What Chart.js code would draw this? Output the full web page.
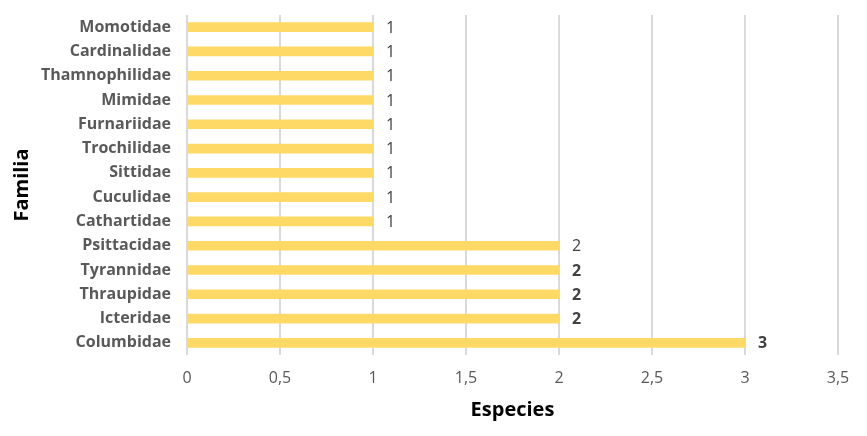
<!DOCTYPE html>
<html>
<head>
<meta charset="utf-8">
<script src="https://cdn.jsdelivr.net/npm/chart.js@4"></script>
<style>
  html, body { margin: 0; padding: 0; background: #fff; }
  #wrap { width: 867px; height: 436px; }
</style>
</head>
<body>
<div id="wrap"><canvas id="familia-chart" width="867" height="436"></canvas></div>
<script>
//data
const familias = ['Momotidae', 'Cardinalidae', 'Thamnophilidae', 'Mimidae', 'Furnariidae',
  'Trochilidae', 'Sittidae', 'Cuculidae', 'Cathartidae', 'Psittacidae',
  'Tyrannidae', 'Thraupidae', 'Icteridae', 'Columbidae'];
const especies = [1, 1, 1, 1, 1, 1, 1, 1, 1, 2, 2, 2, 2, 3];
const xTicks = [0, 0.5, 1, 1.5, 2, 2.5, 3, 3.5];

//labels drawn in bold in the original
const boldLabels = ['Tyrannidae', 'Thraupidae', 'Icteridae', 'Columbidae'];

const fontFamily = '"Open Sans", Lato, sans-serif';

//value labels at the end of each bar
const valueLabels = {
    id: 'valueLabels',
    afterDatasetsDraw(chart) {
        const ctx = chart.ctx;
        const meta = chart.getDatasetMeta(0);
        ctx.save();
        ctx.fillStyle = '#404040';
        ctx.textAlign = 'left';
        ctx.textBaseline = 'middle';
        meta.data.forEach((bar, i) => {
            const bold = boldLabels.includes(familias[i]);
            ctx.font = (bold ? 'bold ' : '') + '16px ' + fontFamily;
            ctx.fillText(String(especies[i]), bar.x + 13, bar.y + 1);
        });
        ctx.restore();
    }
};

const familiaCanvas = document.getElementById('familia-chart');
let familiaChart = new Chart(familiaCanvas, {
    type: 'bar',
    data: {
        labels: familias,
        datasets: [{
            data: especies,
            backgroundColor: '#FFD966',
            barThickness: 9,
            borderWidth: 0
        }]
    },
    options: {
        indexAxis: 'y',
        responsive: false,
        animation: false,
        layout: {
            padding: { top: 15, right: 29, left: 0, bottom: 0 }
        },
        scales: {
            x: {
                min: 0,
                max: 3.5,
                afterBuildTicks: (scale) => {
                    scale.ticks = xTicks.map(v => ({ value: v }));
                },
                afterFit: (scale) => { scale.height = 81; },
                grid: {
                    color: '#d9d9d9',
                    lineWidth: 2,
                    drawTicks: false
                },
                border: { display: false },
                ticks: {
                    padding: 14,
                    color: '#595959',
                    font: { family: fontFamily, size: 16 },
                    callback: (v) => String(v).replace('.', ',')
                },
                title: {
                    display: true,
                    text: 'Especies',
                    color: '#000',
                    font: { family: fontFamily, size: 20, weight: 'bold' },
                    padding: { top: 0, bottom: 14 }
                }
            },
            y: {
                afterFit: (scale) => {
                    scale.width = 187;
                    scale.paddingTop = 0;
                    scale.paddingBottom = 0;
                },
                grid: { display: false, drawTicks: false },
                border: { display: false },
                ticks: {
                    padding: 16,
                    color: '#595959',
                    font: { family: fontFamily, size: 16, weight: 'bold' }
                },
                title: {
                    display: true,
                    text: 'Familia',
                    color: '#000',
                    font: { family: fontFamily, size: 20, weight: 'bold' },
                    padding: { top: 10, bottom: 0 }
                }
            }
        },
        plugins: {
            legend: { display: false },
            tooltip: { enabled: false }
        }
    },
    plugins: [valueLabels]
});
</script>
</body>
</html>
